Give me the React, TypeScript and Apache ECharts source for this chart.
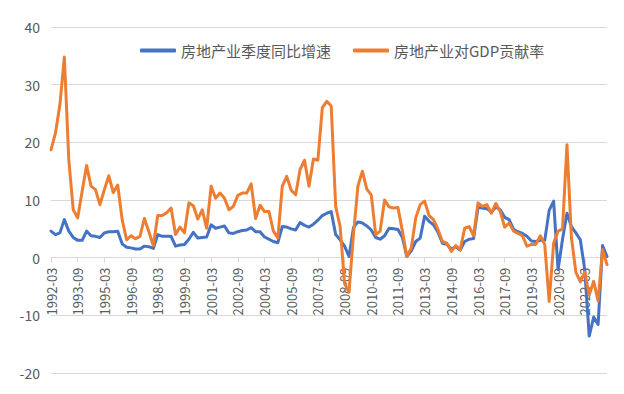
import React, { useEffect, useRef } from "react";
import * as echarts from "echarts";

const startYear = 1992;
const pointCount = 126;
const quarterMonths = ["03", "06", "09", "12"];
const categories: string[] = [];
for (let i = 0; i < pointCount; i++) {
  const y = startYear + Math.floor(i / 4);
  categories.push(`${y}-${quarterMonths[i % 4]}`);
}

const seriesNames = ["房地产业季度同比增速", "房地产业对GDP贡献率"];

const growthValues = [
  4.6, 4.0, 4.3, 6.6, 4.6, 3.5, 3.0, 3.0, 4.6, 3.8,
  3.7, 3.5, 4.3, 4.5, 4.5, 4.6, 2.4, 1.8, 1.7, 1.5,
  1.5, 2.0, 1.9, 1.6, 4.0, 3.7, 3.7, 3.7, 2.0, 2.2,
  2.3, 3.2, 4.4, 3.4, 3.5, 3.6, 5.7, 5.1, 5.3, 5.5,
  4.3, 4.2, 4.5, 4.7, 4.8, 5.2, 4.5, 4.5, 3.6, 3.2,
  2.8, 2.6, 5.4, 5.3, 5.0, 4.8, 6.1, 5.6, 5.3, 5.8,
  6.5, 7.3, 7.7, 8.0, 4.0, 3.1, 2.0, 0.2, 5.2, 6.2,
  6.0, 5.5, 4.8, 3.5, 3.2, 3.8, 5.1, 5.0, 4.9, 3.5,
  0.2, 1.2, 2.8, 3.4, 7.2, 6.3, 5.7, 4.4, 2.5, 2.3,
  1.5, 1.9, 1.3, 2.8, 3.2, 3.3, 8.7, 8.6, 8.5, 7.9,
  8.8, 8.3, 7.0, 6.6, 4.9, 4.5, 4.2, 3.7, 2.9, 2.8,
  3.0, 3.0, 8.2, 9.8, -2.1, 3.2, 7.7, 5.4, 4.3, 3.1,
  -2.1, -13.6, -10.3, -11.6, 2.1, 0.2,
];

const contributionValues = [
  18.7, 21.6, 26.5, 34.8, 17.0, 8.3, 6.9, 11.5, 16.0, 12.4,
  11.8, 9.2, 11.8, 14.2, 11.3, 12.6, 6.6, 3.1, 3.8, 3.3,
  3.7, 6.8, 4.5, 2.1, 7.3, 7.3, 7.8, 8.6, 4.0, 5.3,
  4.3, 9.5, 9.0, 6.7, 8.3, 5.1, 12.4, 10.3, 11.2, 10.3,
  8.3, 8.9, 10.8, 11.2, 11.2, 12.8, 6.8, 9.1, 8.0, 8.0,
  4.6, 3.4, 12.4, 14.1, 11.7, 10.9, 15.3, 16.9, 12.4, 17.1,
  16.9, 26.0, 27.1, 26.3, 8.9, 5.4, -4.5, -6.0, 4.0, 12.4,
  15.0, 11.9, 10.9, 4.0, 4.6, 10.0, 8.8, 8.6, 8.7, 4.6,
  0.2, 1.7, 6.9, 9.2, 9.8, 7.3, 6.6, 4.9, 2.8, 2.5,
  1.1, 2.1, 1.4, 5.1, 5.4, 3.8, 9.5, 8.9, 9.2, 7.7,
  9.4, 8.0, 5.3, 6.0, 4.6, 4.2, 3.8, 2.0, 2.3, 2.3,
  3.8, 2.3, -7.6, 2.5, 4.6, 5.0, 19.6, 3.5, -2.5, -4.2,
  -2.5, -6.5, -4.1, -7.5, 1.4, -1.2,
];

const yMin = -20;
const yMax = 40;
const yStep = 10;

export default function App() {
  const ref = useRef<HTMLDivElement>(null);
  useEffect(() => {
    if (!ref.current) return;
    const chart = echarts.init(ref.current, null, { renderer: "svg" });
    const font = "'Noto Sans CJK SC', 'Noto Sans', sans-serif";
    const gridTop = 27;
    const gridBottom = 21;
    const plotHeight = 394 - gridTop - gridBottom;
    const zeroOffset = -plotHeight * (0 - yMin) / (yMax - yMin);
    chart.setOption({
      animation: false,
      backgroundColor: "#ffffff",
      textStyle: { fontFamily: font },
      grid: {
        left: 51,
        right: 17,
        top: gridTop,
        bottom: gridBottom,
        containLabel: false,
        outerBoundsMode: "none",
      },
      legend: {
        top: 38,
        left: 135,
        itemWidth: 36,
        itemHeight: 4,
        itemGap: 22,
        icon: "roundRect",
        textStyle: { color: "#595959", fontSize: 15, fontFamily: font },
        data: seriesNames,
      },
      xAxis: {
        type: "category",
        data: categories,
        boundaryGap: false,
        position: "bottom",
        offset: zeroOffset,
        axisLine: { onZero: false, lineStyle: { color: "#d9d9d9", width: 1 } },
        axisTick: { show: true, interval: 5, length: 5, lineStyle: { color: "#d9d9d9" } },
        axisLabel: {
          interval: 5,
          rotate: 90,
          color: "#595959",
          fontSize: 13,
          margin: 10,
          fontFamily: font,
          hideOverlap: false,
        },
        splitLine: { show: false },
      },
      yAxis: {
        type: "value",
        min: yMin,
        max: yMax,
        interval: yStep,
        axisLine: { show: false },
        axisTick: { show: false },
        axisLabel: { color: "#595959", fontSize: 14, margin: 11, fontFamily: font },
        splitLine: { lineStyle: { color: "#d9d9d9", width: 1 } },
      },
      series: [
        {
          name: seriesNames[0],
          type: "line",
          data: growthValues,
          symbol: "none",
          color: "#4472C4",
          lineStyle: { width: 3, color: "#4472C4", cap: "round", join: "round" },
        },
        {
          name: seriesNames[1],
          type: "line",
          data: contributionValues,
          symbol: "none",
          color: "#ED7D31",
          lineStyle: { width: 3, color: "#ED7D31", cap: "round", join: "round" },
        },
      ],
    });
    return () => chart.dispose();
  }, []);
  return (
    <div
      ref={ref}
      style={{ position: "fixed", left: 0, top: 0, width: 624, height: 394 }}
    />
  );
}
